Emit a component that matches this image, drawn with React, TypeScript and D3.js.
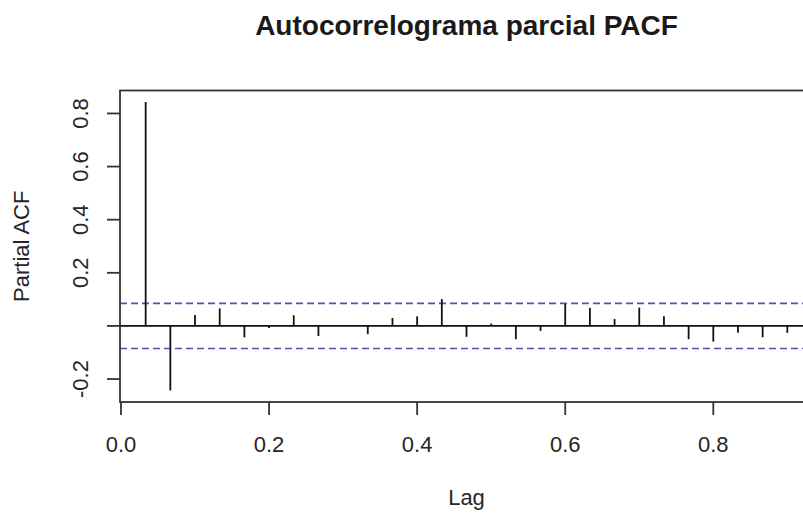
import React from "react";
import * as d3 from "d3";

// PACF values for lags 1..27 (lag expressed in years, frequency 30)
const lagIndex = [1,2,3,4,5,6,7,8,9,10,11,12,13,14,15,16,17,18,19,20,21,22,23,24,25,26,27];
const frequency = 30;
const pacfValues = [
  0.843, -0.243, 0.041, 0.066, -0.043, -0.008, 0.040, -0.038, 0.003, -0.031,
  0.030, 0.036, 0.101, -0.041, 0.009, -0.050, -0.019, 0.083, 0.068, 0.026,
  0.069, 0.036, -0.050, -0.059, -0.026, -0.043, -0.026,
];
const confLimit = 0.085;
const xTicks = [0, 0.2, 0.4, 0.6, 0.8];
const xTickLabels = ["0.0", "0.2", "0.4", "0.6", "0.8"];
const yTicks = [-0.2, 0, 0.2, 0.4, 0.6, 0.8];
const yTickLabels = ["-0.2", "", "0.2", "0.4", "0.6", "0.8"];
const title = "Autocorrelograma parcial PACF";
const xLabel = "Lag";
const yLabel = "Partial ACF";

const W = 803, H = 513;
const box = { left: 120, right: 813, top: 90.5, bottom: 402 };
const font = "'Liberation Sans', Arial, Helvetica, sans-serif";

function ext(lo: number, hi: number): [number, number] {
  const d = (hi - lo) * 0.04;
  return [lo - d, hi + d];
}

export default function App() {
  const lags = lagIndex.map((k) => k / frequency);
  const x = d3.scaleLinear().domain(ext(d3.min(lags)!, d3.max(lags)!)).range([box.left, box.right]);
  const yLo = Math.min(d3.min(pacfValues)!, -confLimit);
  const yHi = Math.max(d3.max(pacfValues)!, confLimit);
  const y = d3.scaleLinear().domain(ext(yLo, yHi)).range([box.bottom, box.top]);
  const cx = (box.left + box.right) / 2;
  const cy = (box.top + box.bottom) / 2;
  const tick = 13;
  const axisColor = "#333";
  const textColor = "#262626";

  return (
    <svg width={W} height={H} style={{ position: "absolute", left: 0, top: 0, background: "#fff" }} fontFamily={font}>
      <rect x={0} y={0} width={W} height={H} fill="#fff" />
      <text x={cx} y={35} textAnchor="middle" fontSize={28} fontWeight="bold" fill="#1a1a1a">{title}</text>

      {/* confidence limits */}
      {[confLimit, -confLimit].map((c, i) => (
        <line key={i} x1={box.left} x2={box.right} y1={y(c)} y2={y(c)} stroke="#5252b4" strokeWidth={1.6} strokeDasharray="7,4" />
      ))}
      {/* zero line */}
      <line x1={box.left} x2={box.right} y1={y(0)} y2={y(0)} stroke="#111" strokeWidth={1.7} />
      {/* spikes */}
      {pacfValues.map((v, i) => (
        <line key={i} x1={x(lags[i])} x2={x(lags[i])} y1={y(0)} y2={y(v)} stroke="#111" strokeWidth={1.8} />
      ))}

      {/* box */}
      <rect x={box.left} y={box.top} width={box.right - box.left} height={box.bottom - box.top} fill="none" stroke={axisColor} strokeWidth={1.8} />

      {/* x axis */}
      {xTicks.map((t, i) => (
        <g key={i}>
          <line x1={x(t)} x2={x(t)} y1={box.bottom} y2={box.bottom + tick} stroke={axisColor} strokeWidth={1.8} />
          <text x={x(t)} y={452} textAnchor="middle" fontSize={22} fill={textColor}>{xTickLabels[i]}</text>
        </g>
      ))}
      <text x={cx} y={505} textAnchor="middle" fontSize={22} fill={textColor}>{xLabel}</text>

      {/* y axis */}
      {yTicks.map((t, i) => (
        <g key={i}>
          <line x1={box.left - tick} x2={box.left} y1={y(t)} y2={y(t)} stroke={axisColor} strokeWidth={1.8} />
          {yTickLabels[i] && (
            <text transform={`translate(87.5,${y(t)}) rotate(-90)`} textAnchor="middle" fontSize={22} fill={textColor}>{yTickLabels[i]}</text>
          )}
        </g>
      ))}
      <text transform={`translate(29,${cy}) rotate(-90)`} textAnchor="middle" fontSize={22} fill={textColor}>{yLabel}</text>
    </svg>
  );
}
